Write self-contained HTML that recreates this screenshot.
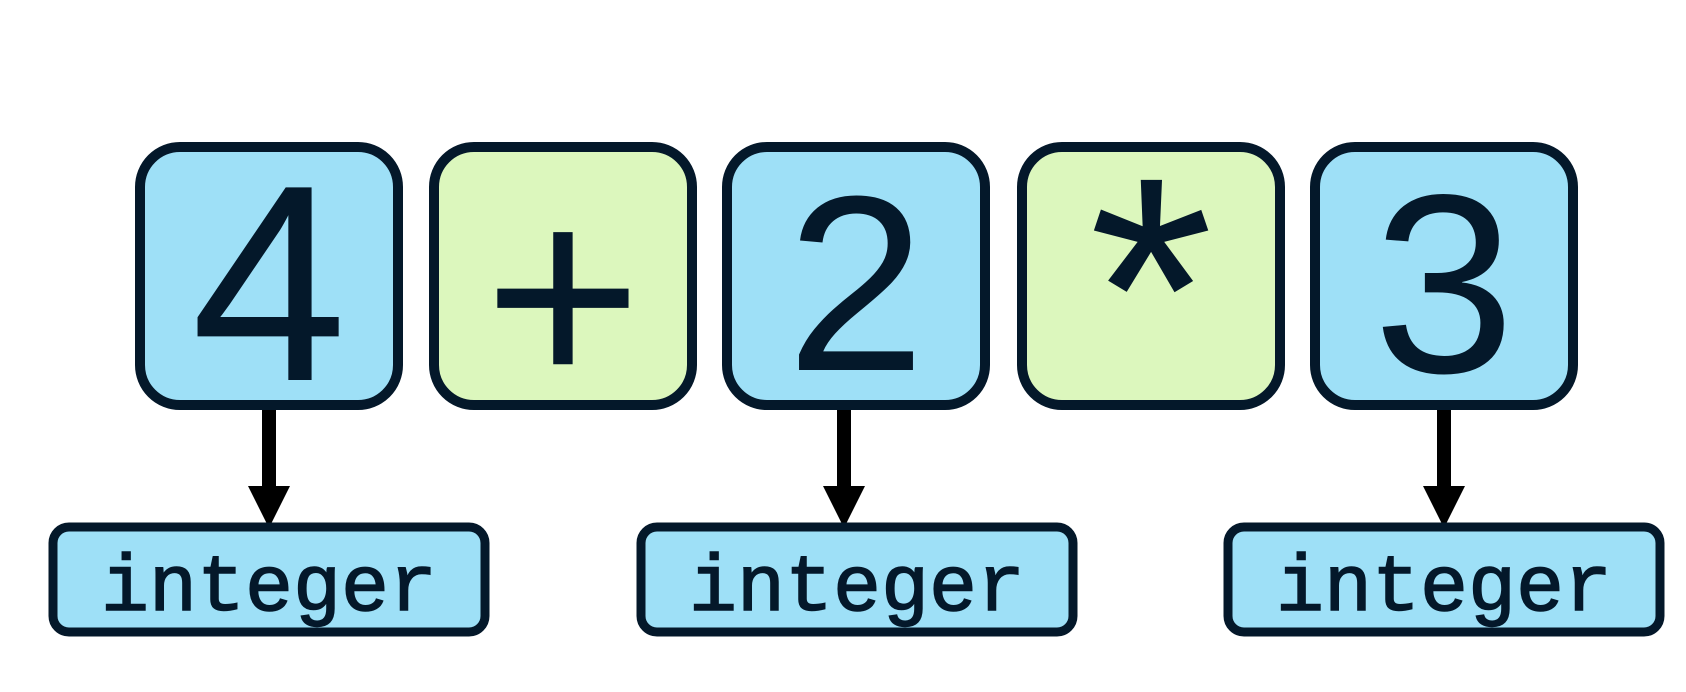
<!DOCTYPE html>
<html><head><meta charset="utf-8"><style>
html,body{margin:0;padding:0;background:#fff;}
svg{display:block;}
</style></head><body>
<svg width="1686" height="692" viewBox="0 0 1686 692">
<g>
<rect x="140" y="147" width="258" height="258" rx="40" fill="#9ee0f7" stroke="#04182a" stroke-width="10"/>
<text x="269" y="380" text-anchor="middle" font-family="Liberation Sans, sans-serif" font-size="280" fill="#04182a">4</text>
</g>
<g>
<rect x="434" y="147" width="258" height="258" rx="40" fill="#dcf7bd" stroke="#04182a" stroke-width="10"/>
<text x="563" y="388" text-anchor="middle" font-family="Liberation Sans, sans-serif" font-size="270" fill="#04182a">+</text>
</g>
<g>
<rect x="727" y="147" width="258" height="258" rx="40" fill="#9ee0f7" stroke="#04182a" stroke-width="10"/>
<text x="856" y="370" text-anchor="middle" font-family="Liberation Sans, sans-serif" font-size="250" fill="#04182a">2</text>
</g>
<g>
<rect x="1022" y="147" width="258" height="258" rx="40" fill="#dcf7bd" stroke="#04182a" stroke-width="10"/>
<text x="1151" y="400" text-anchor="middle" font-family="Liberation Sans, sans-serif" font-size="320" fill="#04182a">*</text>
</g>
<g>
<rect x="1315" y="147" width="258" height="258" rx="40" fill="#9ee0f7" stroke="#04182a" stroke-width="10"/>
<text x="1444" y="372" text-anchor="middle" font-family="Liberation Sans, sans-serif" font-size="255" fill="#04182a">3</text>
</g>
<g>
<rect x="262" y="410" width="14" height="78" fill="#000"/>
<polygon points="248,486 290,486 269,528" fill="#000"/>
</g>
<g>
<rect x="837" y="410" width="14" height="78" fill="#000"/>
<polygon points="823,486 865,486 844,528" fill="#000"/>
</g>
<g>
<rect x="1437" y="410" width="14" height="78" fill="#000"/>
<polygon points="1423,486 1465,486 1444,528" fill="#000"/>
</g>
<g>
<rect x="53" y="527" width="432" height="105" rx="16" fill="#9ee0f7" stroke="#04182a" stroke-width="9"/>
<text x="269" y="610" text-anchor="middle" font-family="Liberation Mono, monospace" font-size="80" fill="#04182a" stroke="#04182a" stroke-width="1.5">integer</text>
</g>
<g>
<rect x="641" y="527" width="432" height="105" rx="16" fill="#9ee0f7" stroke="#04182a" stroke-width="9"/>
<text x="857" y="610" text-anchor="middle" font-family="Liberation Mono, monospace" font-size="80" fill="#04182a" stroke="#04182a" stroke-width="1.5">integer</text>
</g>
<g>
<rect x="1228" y="527" width="432" height="105" rx="16" fill="#9ee0f7" stroke="#04182a" stroke-width="9"/>
<text x="1444" y="610" text-anchor="middle" font-family="Liberation Mono, monospace" font-size="80" fill="#04182a" stroke="#04182a" stroke-width="1.5">integer</text>
</g>
</svg>
</body></html>
